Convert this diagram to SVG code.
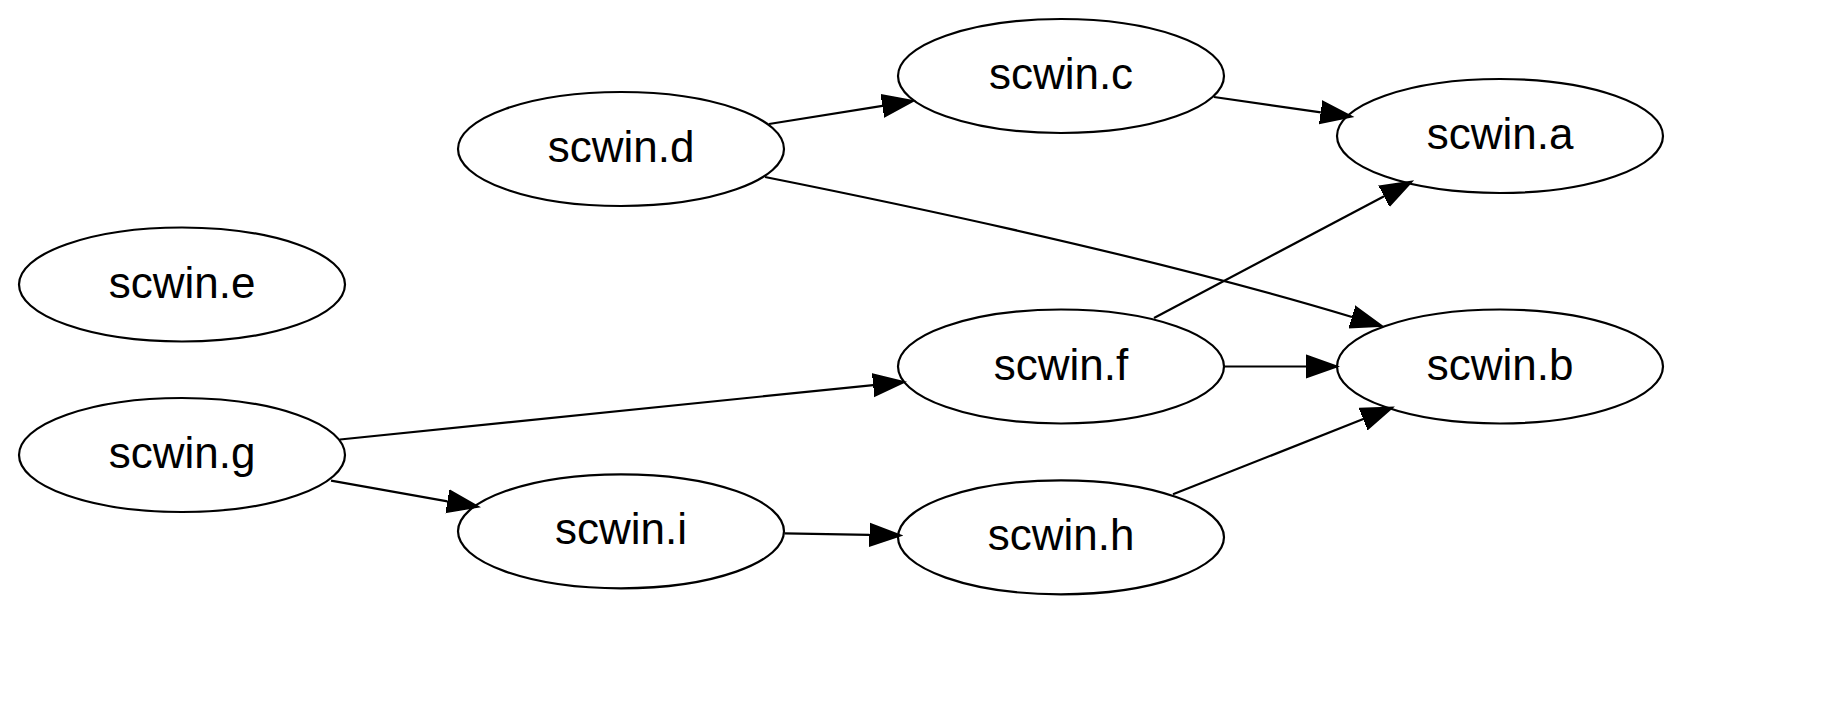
<svg xmlns="http://www.w3.org/2000/svg" width="1846" height="719" viewBox="0 0 1846 719">
<style>
.node ellipse{fill:none;stroke:#000;stroke-width:2.2}
.node text{font-family:"Liberation Sans",Arial,sans-serif;font-size:44px;text-anchor:middle;fill:#000}
.edge{fill:none;stroke:#000;stroke-width:2.2;marker-end:url(#arr)}
</style>
<defs>
<marker id="arr" markerUnits="userSpaceOnUse" markerWidth="34" markerHeight="26" viewBox="0 -13 34 26" refX="0" refY="0" orient="auto">
<path d="M0,-11 L31,0 L0,11 Z" fill="#000" stroke="#000" stroke-width="2"/>
</marker>
</defs>
<rect width="1846" height="719" fill="#fff"/>
<g id="connectors">
<path class="edge" d="M769,124 L882.4,105.9"/>
<path class="edge" d="M1214,97 L1320.8,112.3"/>
<path class="edge" d="M765,177 C930,210 1170,262 1352,317"/>
<path class="edge" d="M1154,318 L1384.1,196.2"/>
<path class="edge" d="M1224,366.5 L1306,366.5"/>
<path class="edge" d="M340,439.5 L873.2,385.1"/>
<path class="edge" d="M331,480.7 L447.5,501.3"/>
<path class="edge" d="M784.6,533.3 L869.5,534.8"/>
<path class="edge" d="M1173,494.3 L1363.3,419.1"/>
</g>
<g id="scwin.d" class="node"><ellipse cx="621" cy="149" rx="163" ry="57"/><text x="621" y="162">scwin.d</text></g>
<g id="scwin.e" class="node"><ellipse cx="182" cy="284.5" rx="163" ry="57"/><text x="182" y="297.5">scwin.e</text></g>
<g id="scwin.c" class="node"><ellipse cx="1061" cy="76" rx="163" ry="57"/><text x="1061" y="89">scwin.c</text></g>
<g id="scwin.a" class="node"><ellipse cx="1500" cy="136" rx="163" ry="57"/><text x="1500" y="149">scwin.a</text></g>
<g id="scwin.f" class="node"><ellipse cx="1061" cy="366.5" rx="163" ry="57"/><text x="1061" y="379.5">scwin.f</text></g>
<g id="scwin.b" class="node"><ellipse cx="1500" cy="366.5" rx="163" ry="57"/><text x="1500" y="379.5">scwin.b</text></g>
<g id="scwin.g" class="node"><ellipse cx="182" cy="455" rx="163" ry="57"/><text x="182" y="468">scwin.g</text></g>
<g id="scwin.i" class="node"><ellipse cx="621" cy="531.3" rx="163" ry="57"/><text x="621" y="544.3">scwin.i</text></g>
<g id="scwin.h" class="node"><ellipse cx="1061" cy="537.3" rx="163" ry="57"/><text x="1061" y="550.3">scwin.h</text></g>
</svg>
